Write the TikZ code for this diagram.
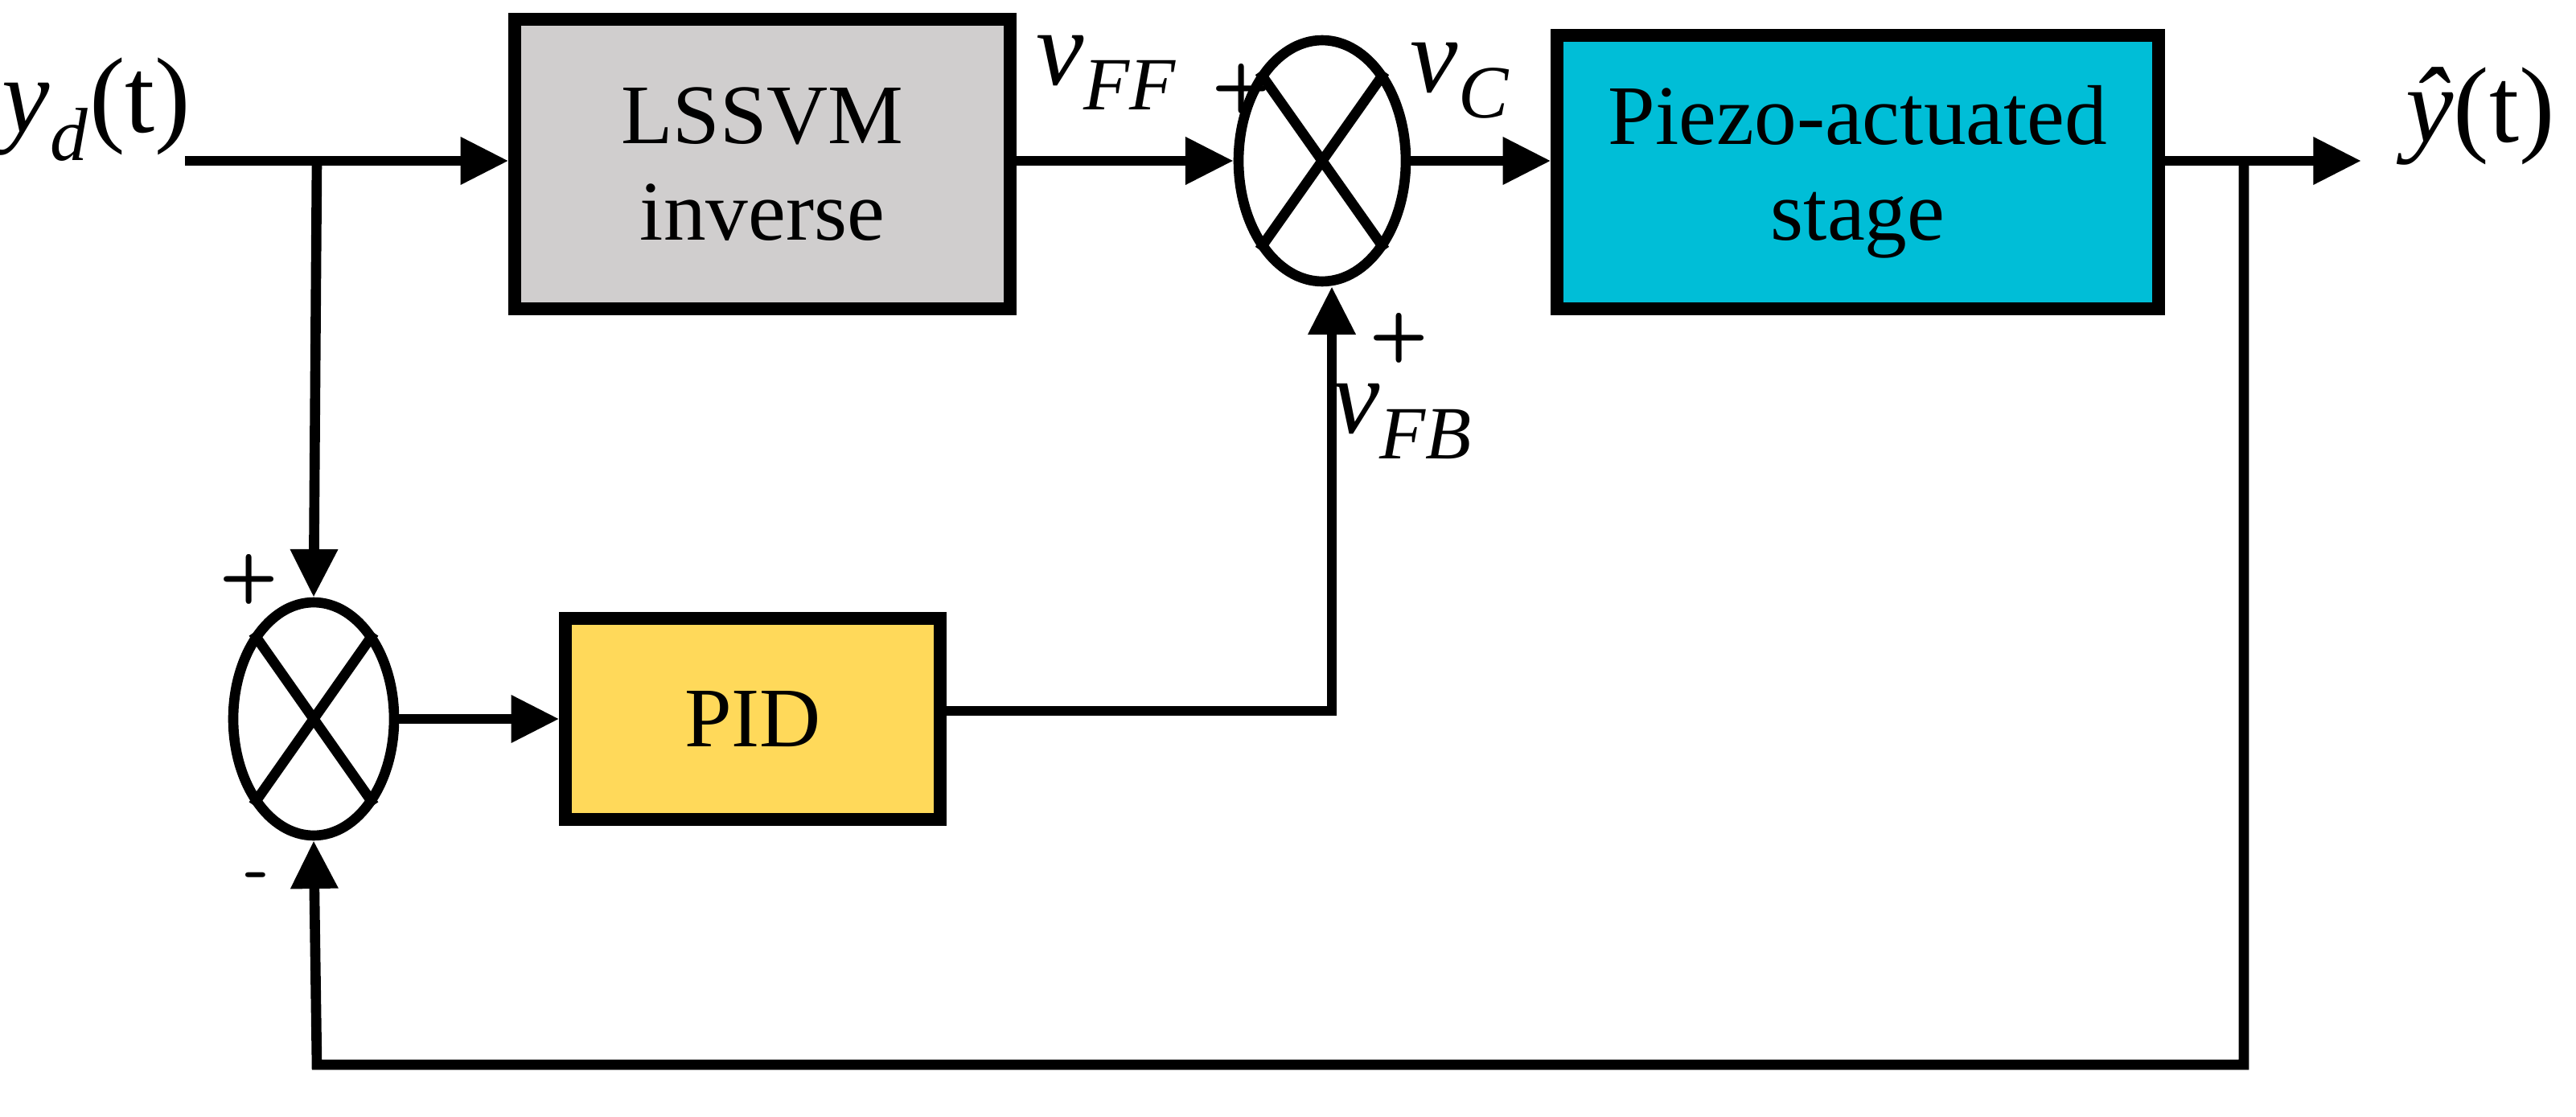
\documentclass[tikz,border=0pt]{standalone}
\usetikzlibrary{shapes.geometric,arrows.meta}
\usepackage{fontspec}
\setmainfont{Liberation Serif}
\begin{document}
\begin{tikzpicture}[x=0.02cm,y=-0.02cm,
  blk/.style={draw,line width=4.4pt,inner sep=0pt,align=center,font=\fontsize{30}{34}\selectfont},
  sum/.style={draw,ellipse,line width=3.6pt,inner sep=0pt},
  ln/.style={line width=3.6pt},
  ar/.style={ln,-{Triangle[length=17pt,width=16pt]}},
  lab/.style={font=\fontsize{38}{42}\selectfont},
  sg/.style={font=\sffamily\bfseries\fontsize{24}{28}\selectfont}]
\useasboundingbox (0,0) rectangle (1601.5,694.5);
\definecolor{gr}{RGB}{208,206,206}
\definecolor{cy}{RGB}{0,190,215}
\definecolor{yl}{RGB}{255,217,90}
\node[blk,fill=gr,minimum width=6.16cm,minimum height=3.6cm] (ls) at (474,102) {LSSVM\\inverse};
\node[blk,fill=cy,minimum width=7.48cm,minimum height=3.4cm] (pz) at (1155,107) {Piezo-actuated\\stage};
\node[blk,fill=yl,minimum width=4.66cm,minimum height=2.5cm] (pid) at (468,447) {PID};
\node[sum,minimum width=2.08cm,minimum height=3.0cm] (s1) at (822,100) {};
\node[sum,minimum width=2.0cm,minimum height=2.9cm] (s2) at (195,447) {};
\draw[ln] (s1.north west) -- (s1.south east) (s1.north east) -- (s1.south west);
\draw[ln] (s2.north west) -- (s2.south east) (s2.north east) -- (s2.south west);
\coordinate (in) at (115,100);
\coordinate (br) at (197,100);
\coordinate (out) at (1468,100);
\coordinate (fb) at (1395,100);
\coordinate (c1) at (1395,662);
\coordinate (c2) at (197,662);
\coordinate (c3) at (828,442);
\draw[ar] (in) -- (ls.west|-in);
\draw[ar] (br) -- (s2.north);
\draw[ar] (ls.east|-s1) -- (s1.west);
\draw[ar] (s1.east) -- (pz.west|-s1);
\draw[ar] (pz.east|-out) -- (out);
\draw[ar] (fb) -- (c1) -- (c2) -- (s2.south);
\draw[ar] (s2.east) -- (pid.west);
\draw[ar] (pid.east|-c3) -- (c3) -- (s1.south-|c3);
\node[lab] (yd) at (60,68) {\textit{y}\textsubscript{\textit{d}}(t)};
\node[lab] (yh) at (1542,72) {\textit{ŷ}(t)};
\node[lab] (vff) at (688,45) {\textit{v}\textsubscript{\textit{FF}}};
\node[lab] (vc) at (908,50) {\textit{v}\textsubscript{\textit{C}}};
\node[lab] (vfb) at (872,262) {\textit{v}\textsubscript{\textit{FB}}};
\node[sg] (p1) at (772,55) {+};
\node[sg] (p2) at (870,210) {+};
\node[sg] (p3) at (155,360) {+};
\node[sg] (m1) at (160,548) {-};
\end{tikzpicture}
\end{document}
